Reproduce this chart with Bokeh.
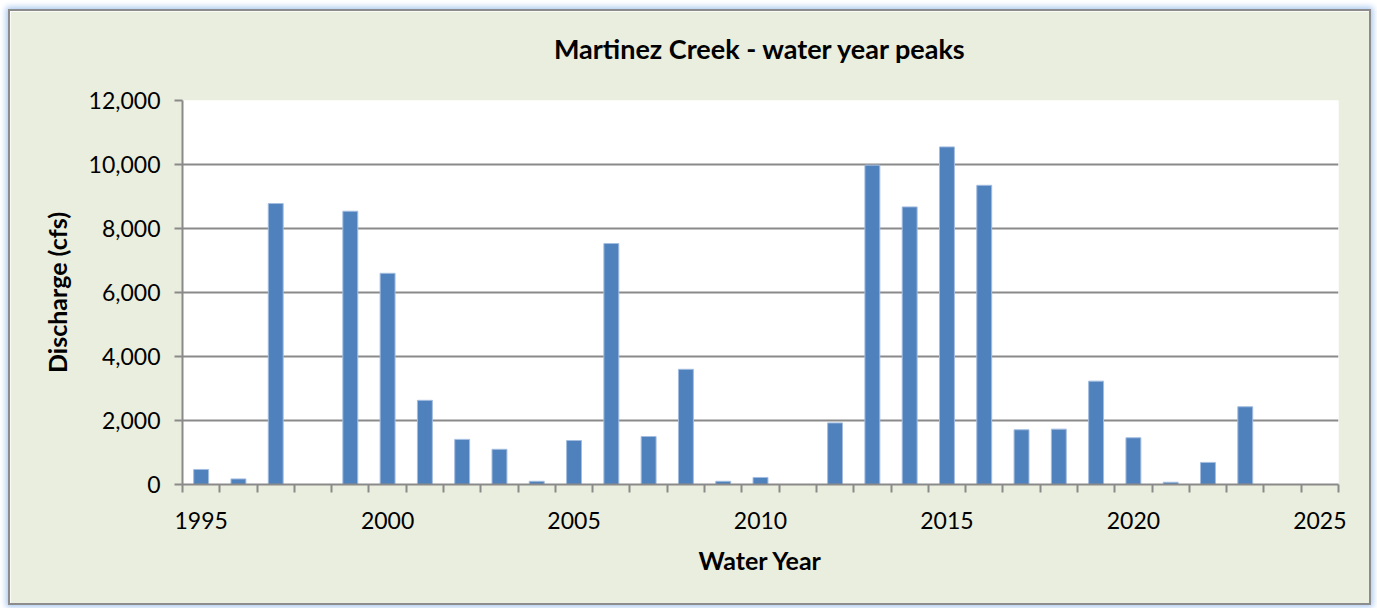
from bokeh.plotting import figure
from bokeh.models import ColumnDataSource, FixedTicker, NumeralTickFormatter, Range1d
from bokeh.embed import file_html
from bokeh.resources import INLINE

# ---- data ----
years = [1995, 1996, 1997, 1999, 2000, 2001, 2002, 2003, 2004, 2005, 2006, 2007,
         2008, 2009, 2010, 2012, 2013, 2014, 2015, 2016, 2017, 2018, 2019, 2020,
         2021, 2022, 2023]
peaks = [470, 175, 8780, 8540, 6600, 2630, 1410, 1100, 100, 1375, 7530, 1500,
         3600, 100, 220, 1925, 9980, 8675, 10550, 9350, 1710, 1730, 3230, 1460,
         70, 690, 2430]
x_labels = [1995, 2000, 2005, 2010, 2015, 2020, 2025]
y_ticks = [0, 2000, 4000, 6000, 8000, 10000, 12000]
title_text = "Martinez Creek - water year peaks"

BG = "#EAEEDE"
GRID = "#8a8a8a"
FONT = "Lato"

# a trailing empty line lifts the title further above the plot area
p = figure(width=1359, height=592, output_backend="svg", toolbar_location=None,
           x_range=Range1d(1994.5, 2025.5), y_range=Range1d(0, 12000),
           min_border_left=172, min_border_right=31, min_border_top=89,
           min_border_bottom=119, title=title_text + "\n")
p.styles = {"margin-left": "10px", "margin-top": "11px",
            "outline": "2px solid #8c8c8c",
            "box-shadow": "0 0 6px 4px #a9c8f0"}

p.background_fill_color = "white"
p.border_fill_color = BG
p.outline_line_color = None

p.title.align = "center"
p.title.vertical_align = "top"
p.title.text_font = FONT
p.title.text_font_size = "27px"
p.title.text_font_style = "bold"
p.title.text_color = "black"
p.title.standoff = 2

src = ColumnDataSource(dict(year=years, peak=peaks))
p.vbar(x="year", top="peak", width=0.40, source=src,
       fill_color="#4F81BD", line_color="#a3bde0", line_width=1)

# y axis
p.yaxis.ticker = FixedTicker(ticks=y_ticks)
p.yaxis.formatter = NumeralTickFormatter(format="0,0")
p.yaxis.axis_label = "Discharge (cfs)"
p.yaxis.major_tick_out = 8
p.yaxis.major_tick_in = 0
p.yaxis.minor_tick_out = 0
p.yaxis.minor_tick_in = 0
p.yaxis.major_label_standoff = 14

# x axis: labels under the bars, tick marks between the categories
minor = [y - 0.5 for y in range(1995, 2027)]
p.xaxis.ticker = FixedTicker(ticks=x_labels, minor_ticks=minor)
p.xaxis.axis_label = "Water Year"
p.xaxis.major_tick_out = 0
p.xaxis.major_tick_in = 0
p.xaxis.minor_tick_out = 8
p.xaxis.minor_tick_in = 0
p.xaxis.major_label_standoff = 19

for ax in (p.xaxis, p.yaxis):
    ax.axis_line_color = GRID
    ax.axis_line_width = 2
    ax.major_tick_line_color = GRID
    ax.major_tick_line_width = 2
    ax.minor_tick_line_color = GRID
    ax.minor_tick_line_width = 2
    ax.major_label_text_font = FONT
    ax.major_label_text_font_size = "23px"
    ax.major_label_text_color = "black"
    ax.axis_label_text_font = FONT
    ax.axis_label_text_font_size = "25px"
    ax.axis_label_text_font_style = "bold"
    ax.axis_label_text_color = "black"

p.xaxis.axis_label_standoff = 13
p.yaxis.axis_label_standoff = 14

p.xgrid.grid_line_color = None
p.ygrid.grid_line_color = GRID
p.ygrid.grid_line_width = 2

open("out.html", "w").write(file_html(p, INLINE))
